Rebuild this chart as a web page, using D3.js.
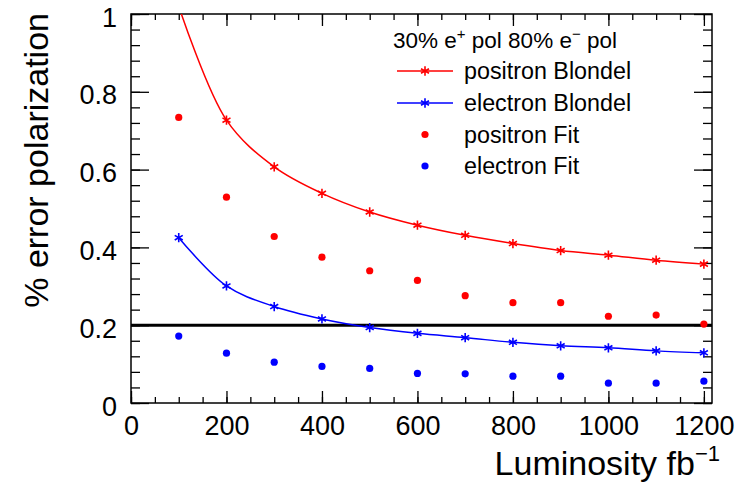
<!DOCTYPE html>
<html>
<head>
<meta charset="utf-8">
<script src="https://cdn.jsdelivr.net/npm/d3@7"></script>
<style>
  body { margin: 0; background: #fff; }
  svg text { font-family: "Liberation Sans", Arial, Helvetica, sans-serif; fill: #000; }
</style>
</head>
<body>
<svg id="chart" width="751" height="487"></svg>
<script>
// luminosity points (fb^-1)
var lumi = [100, 200, 300, 400, 500, 600, 700, 800, 900, 1000, 1100, 1200];

// % error on polarization
var positronBlondel = [1.02, 0.727, 0.607, 0.539, 0.491, 0.457, 0.431, 0.410, 0.392, 0.380, 0.367, 0.357];
var electronBlondel = [0.425, 0.301, 0.248, 0.216, 0.194, 0.179, 0.168, 0.156, 0.147, 0.142, 0.134, 0.129];
var positronFit = [0.734, 0.529, 0.428, 0.375, 0.340, 0.315, 0.276, 0.258, 0.258, 0.223, 0.226, 0.203];
var electronFit = [0.172, 0.128, 0.105, 0.094, 0.089, 0.076, 0.075, 0.069, 0.069, 0.051, 0.051, 0.056];

var refLine = 0.2;   // horizontal reference line

var xTicks = [0, 200, 400, 600, 800, 1000, 1200];
var yTicks = [0, 0.2, 0.4, 0.6, 0.8, 1];

var legendNames = ["positron Blondel", "electron Blondel", "positron Fit", "electron Fit"];

var svg = d3.select("#chart");

// frame of the plot (pixels)
var fLeft = 131, fRight = 712, fTop = 14, fBottom = 403;

var x = d3.scaleLinear().domain([0, 1217]).range([fLeft, fRight]);
var y = d3.scaleLinear().domain([0, 1]).range([fBottom, fTop]);

var red = "#ff0000", blue = "#0000ff";

// clip to frame
svg.append("defs").append("clipPath").attr("id", "frame")
  .append("rect")
  .attr("x", fLeft).attr("y", fTop)
  .attr("width", fRight - fLeft).attr("height", fBottom - fTop);

// minor ticks
var xMinor = d3.range(0, 1201, 50);
var yMinor = d3.range(0, 1.001, 0.04);

function styleAxis(g) {
  g.select(".domain").remove();
  g.selectAll("line").attr("stroke", "#000").attr("stroke-width", 1.3);
}

// bottom
svg.append("g").attr("transform", "translate(0," + fBottom + ")")
  .call(d3.axisBottom(x).tickValues(xMinor).tickSizeInner(-6).tickSizeOuter(0).tickFormat(""))
  .call(styleAxis);
svg.append("g").attr("transform", "translate(0," + fBottom + ")")
  .call(d3.axisBottom(x).tickValues(xTicks).tickSizeInner(-12).tickSizeOuter(0).tickPadding(13).tickFormat(d3.format("d")))
  .call(styleAxis)
  .selectAll("text").attr("font-size", 27);

// top
svg.append("g").attr("transform", "translate(0," + fTop + ")")
  .call(d3.axisTop(x).tickValues(xMinor).tickSizeInner(-6).tickSizeOuter(0).tickFormat(""))
  .call(styleAxis);
svg.append("g").attr("transform", "translate(0," + fTop + ")")
  .call(d3.axisTop(x).tickValues(xTicks).tickSizeInner(-12).tickSizeOuter(0).tickFormat(""))
  .call(styleAxis);

// left
svg.append("g").attr("transform", "translate(" + fLeft + ",0)")
  .call(d3.axisLeft(y).tickValues(yMinor).tickSizeInner(-9).tickSizeOuter(0).tickFormat(""))
  .call(styleAxis);
svg.append("g").attr("transform", "translate(" + fLeft + ",0)")
  .call(d3.axisLeft(y).tickValues(yTicks).tickSizeInner(-18).tickSizeOuter(0).tickPadding(14).tickFormat(function(d){ return d3.format("~g")(d); }))
  .call(styleAxis)
  .selectAll("text").attr("font-size", 27).attr("dy", "0.45em");

// right
svg.append("g").attr("transform", "translate(" + fRight + ",0)")
  .call(d3.axisRight(y).tickValues(yMinor).tickSizeInner(-9).tickSizeOuter(0).tickFormat(""))
  .call(styleAxis);
svg.append("g").attr("transform", "translate(" + fRight + ",0)")
  .call(d3.axisRight(y).tickValues(yTicks).tickSizeInner(-18).tickSizeOuter(0).tickFormat(""))
  .call(styleAxis);

// frame box
svg.append("rect")
  .attr("x", fLeft).attr("y", fTop)
  .attr("width", fRight - fLeft).attr("height", fBottom - fTop)
  .attr("fill", "none").attr("stroke", "#000").attr("stroke-width", 1.5);

var plot = svg.append("g").attr("clip-path", "url(#frame)");

// reference line at 0.2
plot.append("line")
  .attr("x1", x(0)).attr("x2", x(1217))
  .attr("y1", y(refLine)).attr("y2", y(refLine))
  .attr("stroke", "#000").attr("stroke-width", 3);

var line = d3.line()
  .x(function(d){ return x(d[0]); })
  .y(function(d){ return y(d[1]); })
  .curve(d3.curveCatmullRom.alpha(0.5));

var star = d3.symbol().type(d3.symbolAsterisk).size(60);

function drawBlondel(vals, col) {
  var pts = d3.zip(lumi, vals);
  plot.append("path").datum(pts)
    .attr("d", line)
    .attr("fill", "none").attr("stroke", col).attr("stroke-width", 1.5);
  plot.selectAll(null).data(pts.filter(function(d){ return d[1] <= 1; }))
    .enter().append("path")
    .attr("d", star)
    .attr("transform", function(d){ return "translate(" + x(d[0]) + "," + y(d[1]) + ")"; })
    .attr("fill", "none").attr("stroke", col).attr("stroke-width", 1.6);
}

function drawFit(vals, col) {
  plot.selectAll(null).data(d3.zip(lumi, vals))
    .enter().append("circle")
    .attr("cx", function(d){ return x(d[0]); })
    .attr("cy", function(d){ return y(d[1]); })
    .attr("r", 3.6)
    .attr("fill", col);
}

drawBlondel(positronBlondel, red);
drawBlondel(electronBlondel, blue);
drawFit(positronFit, red);
drawFit(electronFit, blue);

// axis titles
svg.append("text")
  .attr("x", 720).attr("y", 475)
  .attr("text-anchor", "end")
  .attr("font-size", 34)
  .text("Luminosity fb")
  .append("tspan").attr("font-size", 22).attr("dy", -14).text("\u22121");

svg.append("text")
  .attr("transform", "translate(48,13) rotate(-90)")
  .attr("text-anchor", "end")
  .attr("font-size", 34)
  .text("% error polarization");

// legend
var header = svg.append("text").attr("x", 393).attr("y", 48).attr("font-size", 22.5);
header.append("tspan").text("30% e");
header.append("tspan").attr("font-size", 15).attr("dy", -9).text("+");
header.append("tspan").attr("dy", 9).text(" pol 80% e");
header.append("tspan").attr("font-size", 15).attr("dy", -9).text("\u2212");
header.append("tspan").attr("dy", 9).text(" pol");

var legendY = [71, 103, 134.5, 166];
var legendCol = [red, blue, red, blue];

legendNames.forEach(function(name, i) {
  var g = svg.append("g").attr("transform", "translate(0," + legendY[i] + ")");
  if (i < 2) {
    g.append("line").attr("x1", 397).attr("x2", 453).attr("y1", 0).attr("y2", 0)
      .attr("stroke", legendCol[i]).attr("stroke-width", 1.5);
    g.append("path").attr("d", star).attr("transform", "translate(425,0)")
      .attr("fill", "none").attr("stroke", legendCol[i]).attr("stroke-width", 1.6);
  } else {
    g.append("circle").attr("cx", 425).attr("cy", 0).attr("r", 3.6).attr("fill", legendCol[i]);
  }
  g.append("text").attr("x", 464).attr("y", 8).attr("font-size", 23.3).text(name);
});
</script>
</body>
</html>
